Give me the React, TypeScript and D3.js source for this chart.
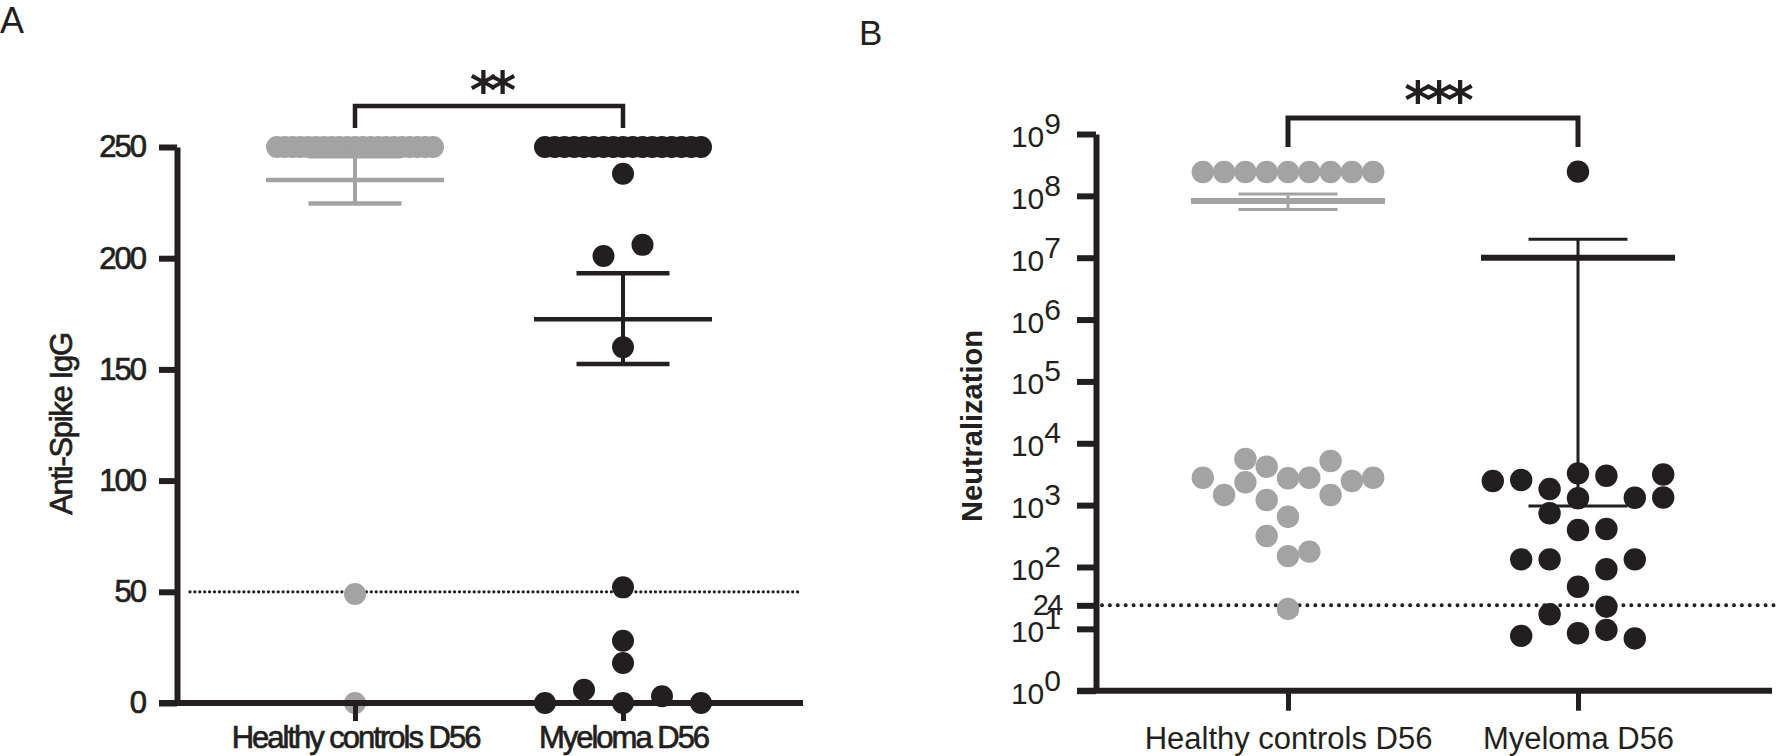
import React, { useEffect, useRef } from "react";
import * as d3 from "d3";

const groups = ["Healthy controls D56", "Myeloma D56"];

// Panel A - anti-spike IgG (slot = horizontal position inside the column)
const igHealthy = [
  250, 250, 250, 250, 250, 250, 250, 250, 250, 250, 250, 250, 250, 250, 250,
  250, 250, 250, 250, 250, 250, 49, 0,
];
const igHealthySlot = [
  -4, -3.6, -3.2, -2.8, -2.4, -2, -1.6, -1.2, -0.8, -0.4, 0, 0.4, 0.8, 1.2, 1.6,
  2, 2.4, 2.8, 3.2, 3.6, 4, 0, 0,
];
const igMyeloma = [
  250, 250, 250, 250, 250, 250, 250, 250, 250, 250, 250, 250, 250, 250, 250,
  250, 250, 238, 206, 201, 160, 52, 28, 18, 6, 3, 0, 0, 0,
];
const igMyelomaSlot = [
  -4, -3.5, -3, -2.5, -2, -1.5, -1, -0.5, 0, 0.5, 1, 1.5, 2, 2.5, 3, 3.5, 4, 0,
  1, -1, 0, 0, 0, 0, -2, 2, -4, 0, 4,
];
const igMean = [235.2, 172.5];
const igLow = [224.6, 152.4];
const igHigh = [245.8, 193.2];
const igTicks = [0, 50, 100, 150, 200, 250];
const igCutoff = 50;

// Panel B - neutralization titres
const ntHealthy = [
  2.43e8, 2.43e8, 2.43e8, 2.43e8, 2.43e8, 2.43e8, 2.43e8, 2.43e8, 2.43e8,
  2775, 1459, 5570, 2339, 4180, 1210, 2714, 650, 317, 150, 177, 2775, 5165,
  1459, 2455, 2775, 21,
];
const ntHealthySlot = [
  -4, -3, -2, -1, 0, 1, 2, 3, 4,
  -4, -3, -2, -2, -1, -1, 0, 0, -1, 0, 1, 1, 2, 2, 3, 4, 0,
];
const ntMyeloma = [
  2.46e8, 2455, 2547, 1820, 3265, 2990, 1290, 1318, 738, 396, 411, 133, 133,
  133, 92, 48, 22.8, 17.2, 7.7, 8.5, 9.6, 7.0, 3126, 1328,
];
const ntMyelomaSlot = [
  0, -3, -2, -1, 0, 1, 0, 2, -1, 0, 1, -2, -1, 2, 1, 0, 1, -1, -2, 0, 1, 2, 3,
  3,
];
const ntMean = [8.25e7, 1.0e7];
const ntLow = [6.0e7, 968];
const ntHigh = [1.07e8, 1.98e7];
const ntDecades = [0, 1, 2, 3, 4, 5, 6, 7, 8, 9];
const ntCutoff = 24;

const GREY = "#a3a3a3";
const INK = "#231f20";
const FONT = "'Liberation Sans', Arial, sans-serif";

const App = () => {
  const svgRef = useRef<SVGSVGElement>(null);

  useEffect(() => {
    const svg = d3.select(svgRef.current);
    svg.selectAll("*").remove();
    svg.append("rect").attr("width", 1777).attr("height", 756).attr("fill", "#fff");

    // ---------- Panel A ----------
    const yA = d3.scaleLinear().domain([0, 250]).range([703, 147]);
    const xA = d3.scalePoint().domain(groups).range([355, 623]);
    const slotA = d3.scaleLinear().domain([-1, 1]).range([-19.5, 19.5]);

    svg.append("text").attr("x", 0).attr("y", 33).attr("font-family", FONT)
      .attr("font-size", 36).attr("fill", INK).text("A");

    // cutoff
    svg.append("line").attr("x1", 190).attr("x2", 799)
      .attr("y1", yA(igCutoff)).attr("y2", yA(igCutoff))
      .attr("stroke", INK).attr("stroke-width", 3.3)
      .attr("stroke-linecap", "round").attr("stroke-dasharray", "0 4.9");

    const gA = svg.append("g");
    const seriesA = [
      { g: groups[0], v: igHealthy, s: igHealthySlot, c: GREY },
      { g: groups[1], v: igMyeloma, s: igMyelomaSlot, c: INK },
    ];
    seriesA.forEach((ser) => {
      gA.append("g").selectAll("circle").data(ser.v).enter().append("circle")
        .attr("cx", (d, i) => xA(ser.g) + slotA(ser.s[i]))
        .attr("cy", (d) => yA(d)).attr("r", 11).attr("fill", ser.c);
    });

    groups.forEach((g, i) => {
      const cx = xA(g);
      const c = i === 0 ? GREY : INK;
      gA.append("line").attr("x1", cx).attr("x2", cx)
        .attr("y1", yA(igHigh[i])).attr("y2", yA(igLow[i]))
        .attr("stroke", c).attr("stroke-width", 4);
      [igHigh[i], igLow[i]].forEach((v) => {
        gA.append("line").attr("x1", cx - 46.5).attr("x2", cx + 46.5)
          .attr("y1", yA(v)).attr("y2", yA(v)).attr("stroke", c).attr("stroke-width", 4.5);
      });
      gA.append("line").attr("x1", cx - 89).attr("x2", cx + 89)
        .attr("y1", yA(igMean[i])).attr("y2", yA(igMean[i]))
        .attr("stroke", c).attr("stroke-width", 4.5);
    });

    // panel A text is drawn a bit heavier, like the reference
    const heavy = (sel) => sel.attr("stroke", INK).attr("stroke-width", 0.7);

    const axA = svg.append("g").attr("transform", "translate(177,0)")
      .call(d3.axisLeft(yA).tickValues(igTicks).tickSize(18).tickSizeOuter(0).tickPadding(14));
    axA.select(".domain").attr("stroke", INK).attr("stroke-width", 6);
    axA.selectAll(".tick line").attr("stroke", INK).attr("stroke-width", 6);
    heavy(axA.selectAll(".tick text").attr("font-family", FONT).attr("font-size", 31)
      .attr("letter-spacing", -2).attr("fill", INK));

    svg.append("line").attr("x1", 159).attr("x2", 803).attr("y1", 703).attr("y2", 703)
      .attr("stroke", INK).attr("stroke-width", 6);
    const bxA = svg.append("g").attr("transform", "translate(0,703)")
      .call(d3.axisBottom(xA).tickSize(18).tickPadding(5));
    bxA.select(".domain").remove();
    bxA.selectAll(".tick line").attr("stroke", INK).attr("stroke-width", 5);
    heavy(bxA.selectAll(".tick text").attr("font-family", FONT).attr("font-size", 31)
      .attr("letter-spacing", -2).attr("fill", INK));

    heavy(svg.append("text").attr("transform", "translate(72,424) rotate(-90)")
      .attr("text-anchor", "middle").attr("font-family", FONT).attr("font-size", 31)
      .attr("letter-spacing", -1.3).attr("fill", INK).text("Anti-Spike IgG"));

    // bracket
    const brA = 106;
    svg.append("path")
      .attr("d", `M${xA(groups[0])},128V${brA}H${xA(groups[1])}V128`)
      .attr("fill", "none").attr("stroke", INK).attr("stroke-width", 4.5);
    svg.append("text").attr("x", (xA(groups[0]) + xA(groups[1])) / 2).attr("y", 108)
      .attr("text-anchor", "middle").attr("font-family", "'DejaVu Sans', sans-serif")
      .attr("font-weight", "bold").attr("font-size", 52).attr("letter-spacing", -8)
      .attr("fill", INK).text("**");

    // ---------- Panel B ----------
    const yB = d3.scaleLog().domain([1, 1e9]).range([690.7, 134]);
    const xB = d3.scalePoint().domain(groups).range([1288, 1578]);
    const slotB = [
      d3.scaleLinear().domain([-1, 1]).range([-21.3, 21.3]),
      d3.scaleLinear().domain([-1, 1]).range([-28.4, 28.4]),
    ];

    svg.append("text").attr("x", 859).attr("y", 45).attr("font-family", FONT)
      .attr("font-size", 35).attr("fill", INK).text("B");

    svg.append("line").attr("x1", 1102).attr("x2", 1777)
      .attr("y1", yB(ntCutoff)).attr("y2", yB(ntCutoff))
      .attr("stroke", INK).attr("stroke-width", 4)
      .attr("stroke-linecap", "round").attr("stroke-dasharray", "0 7.9");

    const gB = svg.append("g");
    const seriesB = [
      { g: groups[0], v: ntHealthy, s: ntHealthySlot, c: GREY },
      { g: groups[1], v: ntMyeloma, s: ntMyelomaSlot, c: INK },
    ];
    seriesB.forEach((ser, k) => {
      gB.append("g").selectAll("circle").data(ser.v).enter().append("circle")
        .attr("cx", (d, i) => xB(ser.g) + slotB[k](ser.s[i]))
        .attr("cy", (d) => yB(d)).attr("r", 11.2).attr("fill", ser.c);
    });

    groups.forEach((g, i) => {
      const cx = xB(g);
      const c = i === 0 ? GREY : INK;
      gB.append("line").attr("x1", cx).attr("x2", cx)
        .attr("y1", yB(ntHigh[i])).attr("y2", yB(ntLow[i]))
        .attr("stroke", c).attr("stroke-width", 3);
      [ntHigh[i], ntLow[i]].forEach((v) => {
        gB.append("line").attr("x1", cx - 49.5).attr("x2", cx + 49.5)
          .attr("y1", yB(v)).attr("y2", yB(v)).attr("stroke", c).attr("stroke-width", 3);
      });
      gB.append("line").attr("x1", cx - 97).attr("x2", cx + 97)
        .attr("y1", yB(ntMean[i])).attr("y2", yB(ntMean[i]))
        .attr("stroke", c).attr("stroke-width", 6);
    });

    const tickValsB = ntDecades.map((e) => Math.pow(10, e)).concat([ntCutoff]);
    const axB = svg.append("g").attr("transform", "translate(1096,0)")
      .call(d3.axisLeft(yB).tickValues(tickValsB).tickSize(19).tickSizeOuter(0).tickFormat(() => ""));
    axB.select(".domain").attr("stroke", INK).attr("stroke-width", 6);
    axB.selectAll(".tick line").attr("stroke", INK).attr("stroke-width", 6);
    axB.selectAll(".tick text").remove();

    ntDecades.forEach((e) => {
      const t = svg.append("text").attr("x", 1061).attr("y", yB(Math.pow(10, e)) + 13)
        .attr("text-anchor", "end").attr("font-family", FONT).attr("font-size", 30).attr("fill", INK);
      t.append("tspan").text("10");
      t.append("tspan").attr("dy", -13).text(String(e));
    });
    svg.append("text").attr("x", 1062).attr("y", yB(ntCutoff) + 10)
      .attr("text-anchor", "end").attr("font-family", FONT).attr("font-size", 29)
      .attr("letter-spacing", -1.5).attr("fill", INK).text(String(ntCutoff));

    svg.append("line").attr("x1", 1077).attr("x2", 1772).attr("y1", 690.7).attr("y2", 690.7)
      .attr("stroke", INK).attr("stroke-width", 6);
    const bxB = svg.append("g").attr("transform", "translate(0,690.7)")
      .call(d3.axisBottom(xB).tickSize(20).tickPadding(16));
    bxB.select(".domain").remove();
    bxB.selectAll(".tick line").attr("stroke", INK).attr("stroke-width", 5);
    bxB.selectAll(".tick text").attr("font-family", FONT).attr("font-size", 31).attr("fill", INK);

    svg.append("text").attr("transform", "translate(982,426) rotate(-90)")
      .attr("text-anchor", "middle").attr("font-family", FONT).attr("font-weight", "bold")
      .attr("font-size", 29).attr("fill", INK).text("Neutralization");

    svg.append("path")
      .attr("d", `M${xB(groups[0])},147V118H${xB(groups[1])}V147`)
      .attr("fill", "none").attr("stroke", INK).attr("stroke-width", 5);
    svg.append("text").attr("x", (xB(groups[0]) + xB(groups[1])) / 2 + 3).attr("y", 118)
      .attr("text-anchor", "middle").attr("font-family", "'DejaVu Sans', sans-serif")
      .attr("font-weight", "bold").attr("font-size", 52).attr("letter-spacing", -6)
      .attr("fill", INK).text("***");
  }, []);

  return (
    <svg
      ref={svgRef}
      width="1777"
      height="756"
      style={{ position: "absolute", left: 0, top: 0 }}
    ></svg>
  );
};

export default App;
